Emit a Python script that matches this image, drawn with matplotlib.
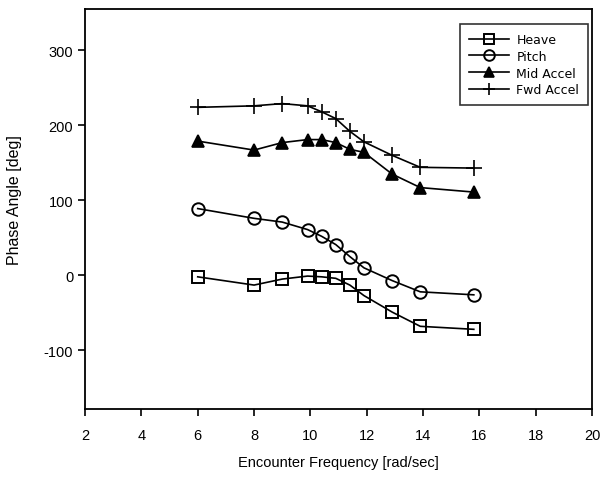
import matplotlib
matplotlib.use('Agg')
import matplotlib.pyplot as plt

plt.rcParams['font.family'] = ['Liberation Sans', 'DejaVu Sans']
plt.rcParams['axes.unicode_minus'] = False

# encounter frequency [rad/sec]
freq = [6, 8, 9, 9.9, 10.4, 10.9, 11.4, 11.9, 12.9, 13.9, 15.8]

# phase angles [deg]
heave = [-2, -13, -5, -1, -2, -4, -13, -27, -49, -68, -72]
pitch = [89, 76, 71, 61, 52, 41, 25, 10, -7, -22, -26]
mid_accel = [179, 167, 177, 181, 181, 177, 168, 164, 135, 117, 111]
fwd_accel = [224, 226, 229, 226, 218, 209, 192, 178, 160, 144, 143]

x_ticks = [2, 4, 6, 8, 10, 12, 14, 16, 18, 20]
y_ticks = [-100, 0, 100, 200, 300]

fig = plt.figure(figsize=(6.03, 4.81), dpi=100)
ax = fig.add_axes([0.141, 0.148, 0.841, 0.831])

line_kw = dict(color='black', lw=1.2, markersize=9, markeredgewidth=1.4)
ax.plot(freq, heave, marker='s', mfc='none', label='Heave', **line_kw)
ax.plot(freq, pitch, marker='o', mfc='none', label='Pitch', **line_kw)
ax.plot(freq, mid_accel, marker='^', mfc='black', label='Mid Accel',
        color='black', lw=1.2, markersize=8, markeredgewidth=1.2)
ax.plot(freq, fwd_accel, marker='+', markersize=11, color='black', lw=1.2,
        markeredgewidth=1.2, label='Fwd Accel')

ax.set_xlim(2, 20)
ax.set_ylim(-178, 355)
ax.set_xticks(x_ticks)
ax.set_yticks(y_ticks)
ax.tick_params(direction='out', length=5, width=1.2, labelsize=10.5, top=False, right=False)
ax.tick_params(axis='x', pad=9)

for s in ax.spines.values():
    s.set_linewidth(1.3)

ax.set_xlabel('Encounter Frequency [rad/sec]', fontsize=10.5, labelpad=9)
ax.set_ylabel('Phase Angle [deg]', fontsize=11.5)
ax.yaxis.set_label_coords(-0.124, 0.525)

leg = ax.legend(loc='upper right', fontsize=9, frameon=True, fancybox=False,
                edgecolor='black', handlelength=3.2, handletextpad=0.6,
                borderpad=0.7, borderaxespad=0, labelspacing=0.3,
                markerscale=0.85, prop={'family': 'DejaVu Sans', 'size': 9},
                bbox_to_anchor=(0.992, 0.962))
leg.get_frame().set_linewidth(1.2)

fig.savefig('out.png', dpi=100)
